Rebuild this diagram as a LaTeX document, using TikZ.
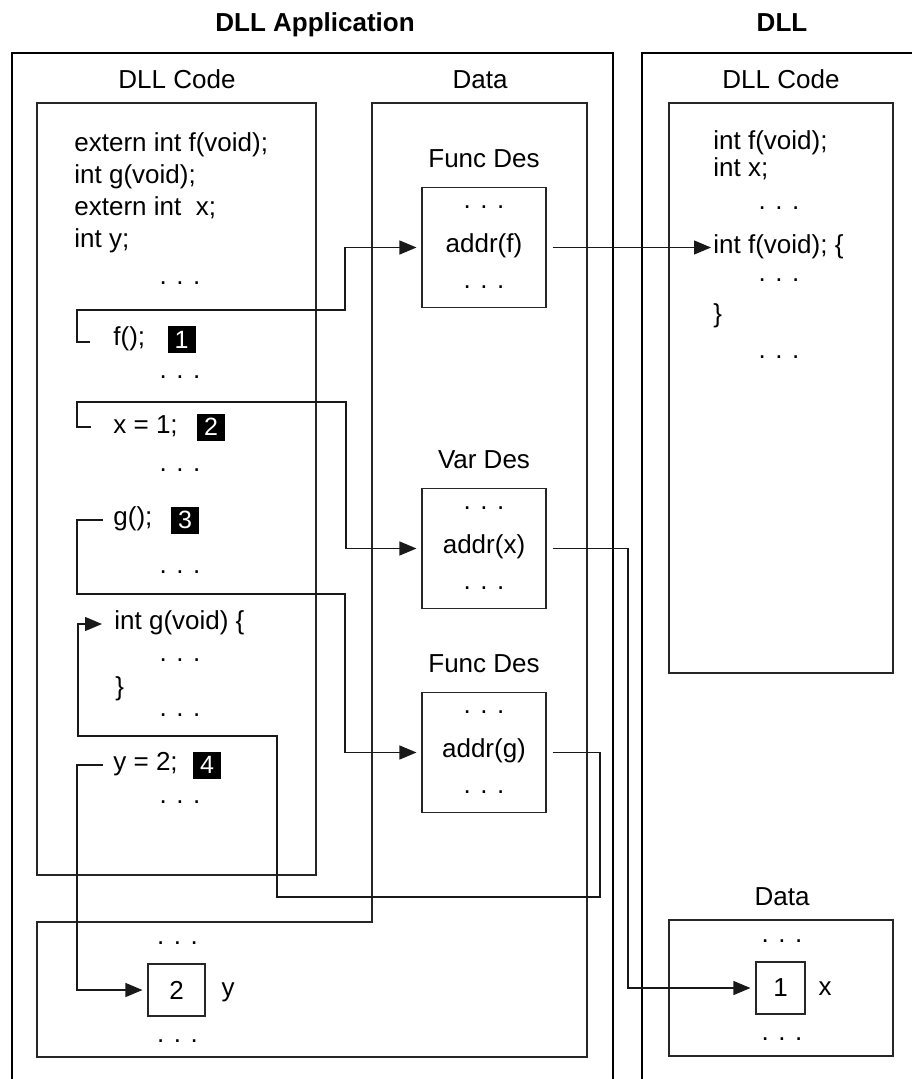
\documentclass[tikz,border=0pt]{standalone}
\usepackage{fontspec}
\setmainfont{Liberation Sans}
\usetikzlibrary{arrows.meta}
\begin{document}
\begin{tikzpicture}[x=0.5pt,y=-0.5pt,
  outer/.style={line width=1pt,draw=black},
  frame/.style={line width=0.55pt,draw=black!85},
  conn/.style={line width=0.6pt,draw=black!90},
  arr/.style={conn,-{Triangle[length=8.5pt,width=7pt]},shorten >=2.5pt},
  fnt/.style={font=\fontsize{13}{15}\selectfont},
  code/.style={fnt,inner sep=0pt,anchor=west,text height=0.73em,text depth=0.21em},
  lbl/.style={fnt,inner sep=0pt,text height=0.72em,text depth=0pt},
  dots/.style={fnt,inner sep=0pt},
  ttl/.style={font=\fontsize{13}{15}\selectfont\bfseries,inner sep=0pt,text height=0.72em,text depth=0pt},
  num/.style={fill=black,text=white,inner sep=0pt,minimum width=14pt,minimum height=13.5pt,font=\fontsize{12.5}{14}\selectfont},
  desc/.style={frame,minimum width=62pt,minimum height=60pt,inner sep=0pt},
  cell/.style={frame,fnt,inner sep=0pt,minimum height=26pt}
]
\useasboundingbox (0,0) rectangle (911,1079);

% outer frames
\draw[outer] (12,1095) -- (12,53) -- (613,53) -- (613,1095);
\draw[outer] (642,1095) -- (642,53) -- (925,53);

% inner frames
\draw[frame] (37,103) rectangle (316,875);
\draw[frame] (372,103) -- (587,103) -- (587,1057) -- (37,1057) -- (37,922) -- (372,922) -- cycle;
\draw[frame] (669,103) rectangle (893,673);
\draw[frame] (669,920) rectangle (893,1056);

% titles and labels
\node[ttl] (tapp) at (315,24) {DLL Application};
\node[ttl] (tdll) at (782,24) {DLL};
\node[lbl] (lcode) at (177,81) {DLL Code};
\node[lbl] (ldata) at (480,81) {Data};
\node[lbl] (rcode) at (781,81) {DLL Code};
\node[lbl] (rdata) at (782,898) {Data};
\node[lbl] (lfd1) at (484,160) {Func Des};
\node[lbl] (lvd) at (484,461) {Var Des};
\node[lbl] (lfd2) at (484,665) {Func Des};

% descriptor boxes
\node[desc] (fd1) at (484,247.5) {};
\node[desc] (vd) at (484,548.5) {};
\node[desc] (fd2) at (484,752.5) {};
\node[dots] (fd1a) at (484,207) {. . .};
\node[code,anchor=center] (addrf) at (484,247.5) {addr(f)};
\node[dots] (fd1b) at (484,287) {. . .};
\node[dots] (vda) at (484,508) {. . .};
\node[code,anchor=center] (addrx) at (484,548.5) {addr(x)};
\node[dots] (vdb) at (484,588) {. . .};
\node[dots] (fd2a) at (484,712) {. . .};
\node[code,anchor=center] (addrg) at (484,752.5) {addr(g)};
\node[dots] (fd2b) at (484,792) {. . .};

% application code
\node[code] (l1) at (74,146) {extern int f(void);};
\node[code] (l2) at (74,178) {int g(void);};
\node[code] (l3) at (74,210) {extern int\ \ x;};
\node[code] (l4) at (74,242) {int y;};
\node[dots] (d1) at (180,283) {. . .};
\node[code] (fcall) at (113,340) {f();};
\node[num] (n1) at (181.5,339.5) {1};
\node[dots] (d2) at (180,377) {. . .};
\node[code] (xset) at (113,428) {x = 1;};
\node[num] (n2) at (211,427) {2};
\node[dots] (d3) at (180,470) {. . .};
\node[code] (gcall) at (113,520) {g();};
\node[num] (n3) at (185,520) {3};
\node[dots] (d4) at (180,572) {. . .};
\node[code] (gdef) at (114,624) {int g(void) \{};
\node[dots] (d5) at (180,660) {. . .};
\node[code] (gend) at (115,690) {\}};
\node[dots] (d6) at (180,715) {. . .};
\node[code] (yset) at (113,765) {y = 2;};
\node[num] (n4) at (207,765) {4};
\node[dots] (d7) at (180,802) {. . .};

% application data (lower)
\node[dots] (yd1) at (177.5,943) {. . .};
\node[cell,minimum width=28.5pt] (ybox) at (176.5,990) {2};
\node[fnt,inner sep=0pt] (ylbl) at (228,992) {y};
\node[dots] (yd2) at (177.5,1041) {. . .};

% DLL code
\node[code] (r1) at (713,144) {int f(void);};
\node[code] (r2) at (713,171) {int x;};
\node[dots] (rd1) at (779,208) {. . .};
\node[code] (fdef) at (713,248) {int f(void); \{};
\node[dots] (rd2) at (779,280) {. . .};
\node[code] (fend) at (713,317) {\}};
\node[dots] (rd3) at (779,357) {. . .};

% DLL data
\node[dots] (xd1) at (782,941) {. . .};
\node[cell,minimum width=24.5pt] (xbox) at (780.5,988) {1};
\node[fnt,inner sep=0pt] (xlbl) at (825,988.5) {x};
\node[dots] (xd2) at (782,1039) {. . .};

% connectors
\coordinate (s1) at (90,342);
\coordinate (s2) at (91,427);
\draw[arr] (s1) -- (77,342) -- (77,310) -- (345,310) |- (fd1.west);
\draw[arr] (s2) -- (77,427) -- (77,402) -- (346,402) |- (vd.west);
\draw[arr,shorten <=5pt] (gcall.west) -- (77,520) -- (77,594) -- (345,594) |- (fd2.west);
\draw[arr,shorten <=3pt,shorten >=6pt] (fd2.east) -- (600,752.5) -- (600,897) -- (277,897) -- (277,736) -- (78,736) |- (gdef.west);
\draw[arr,shorten <=5pt] (yset.west) -- (77,765) |- (ybox.west);
\draw[arr,shorten <=3pt,shorten >=1pt] (fd1.east) -- (fd1.east -| fdef.west);
\draw[arr,shorten <=3pt] (vd.east) -- (628,548.5) |- (xbox.west);
\end{tikzpicture}
\end{document}
